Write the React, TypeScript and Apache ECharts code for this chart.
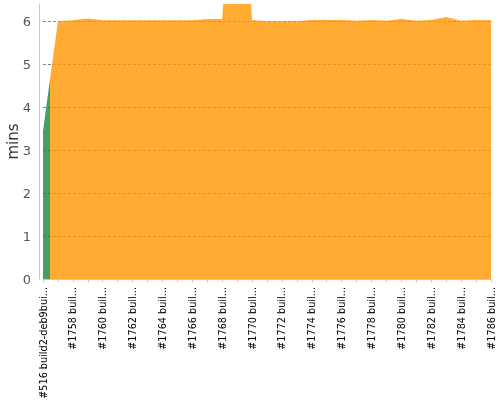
import React, { useEffect, useRef } from "react";
import * as echarts from "echarts";

const categories: string[] = [
  "#516 build2-deb9bui...",
  "#1757 buil...",
  "#1758 buil...",
  "#1759 buil...",
  "#1760 buil...",
  "#1761 buil...",
  "#1762 buil...",
  "#1763 buil...",
  "#1764 buil...",
  "#1765 buil...",
  "#1766 buil...",
  "#1767 buil...",
  "#1768 buil...",
  "#1769 buil...",
  "#1770 buil...",
  "#1771 buil...",
  "#1772 buil...",
  "#1773 buil...",
  "#1774 buil...",
  "#1775 buil...",
  "#1776 buil...",
  "#1777 buil...",
  "#1778 buil...",
  "#1779 buil...",
  "#1780 buil...",
  "#1781 buil...",
  "#1782 buil...",
  "#1783 buil...",
  "#1784 buil...",
  "#1785 buil...",
  "#1786 buil...",
];

const buildMinutes: number[] = [
  3.45, 6.0, 6.02, 6.06, 6.02, 6.02, 6.02, 6.02, 6.02, 6.02, 6.02, 6.05, 6.05,
  11.0, 6.03, 6.0, 6.0, 6.0, 6.03, 6.03, 6.03, 6.01, 6.03, 6.01, 6.05, 6.01,
  6.03, 6.1, 6.01, 6.03, 6.02,
];

// index of the last successful (green) build; later builds are unstable (orange)
const lastSuccessIndex = 0;

const yMin = 0;
const yMax = 6.4;
const yInterval = 1;

const GREEN = "#188641";
const ORANGE = "#FF9700";

export default function App() {
  const ref = useRef<HTMLDivElement>(null);
  useEffect(() => {
    const chart = echarts.init(ref.current!, null, { renderer: "svg" });
    const baseOption: any = {
      animation: false,
      textStyle: { fontFamily: "DejaVu Sans" },
      grid: {
        left: 43,
        right: 9,
        top: 4,
        bottom: 121,
        containLabel: false,
        outerBoundsMode: "none",
      },
      xAxis: {
        type: "category",
        data: categories,
        boundaryGap: false,
        offset: 4,
        axisLine: { lineStyle: { color: "#c8c8c8" } },
        axisTick: { show: true, interval: 0, length: 3, lineStyle: { color: "#c8c8c8" } },
        axisLabel: {
          rotate: 90,
          interval: 1,
          margin: 4,
          fontSize: 9.7,
          color: "#000",
          fontFamily: "DejaVu Sans",
        },
        splitLine: { show: false },
      },
      yAxis: {
        type: "value",
        min: yMin,
        max: yMax,
        interval: yInterval,
        offset: 4,
        name: "mins",
        nameLocation: "middle",
        nameGap: 19,
        nameMoveOverlap: false,
        nameTextStyle: { fontSize: 15, color: "#333", fontFamily: "DejaVu Sans" },
        axisLine: { show: true, lineStyle: { color: "#c8c8c8" } },
        axisTick: { show: false },
        axisLabel: { fontSize: 13, color: "#555", margin: 8, showMaxLabel: false },
        splitLine: {
          show: true,
          showMaxLine: false,
          lineStyle: { color: "#888", type: [3, 2], width: 1 },
        },
      },
      series: [
        {
          type: "line",
          data: buildMinutes,
          symbol: "none",
          showSymbol: false,
          lineStyle: { width: 0 },
          areaStyle: { opacity: 0.8, color: ORANGE },
        },
      ],
    };
    chart.setOption(baseOption);

    const xStart = chart.convertToPixel({ xAxisIndex: 0 }, 0) as number;
    const xEnd = chart.convertToPixel({ xAxisIndex: 0 }, buildMinutes.length - 1) as number;
    const xA = chart.convertToPixel({ xAxisIndex: 0 }, lastSuccessIndex) as number;
    const xB = chart.convertToPixel({ xAxisIndex: 0 }, lastSuccessIndex + 1) as number;
    const mid = (xA + xB) / 2;
    const f = (mid - xStart) / (xEnd - xStart);
    const gradient = new echarts.graphic.LinearGradient(
      xStart,
      0,
      xEnd,
      0,
      [
        { offset: 0, color: GREEN },
        { offset: f, color: GREEN },
        { offset: f, color: ORANGE },
        { offset: 1, color: ORANGE },
      ],
      true
    );
    chart.setOption({
      series: [{ areaStyle: { opacity: 0.8, color: gradient } }],
    });
    return () => chart.dispose();
  }, []);
  return (
    <div
      ref={ref}
      style={{ position: "fixed", left: 0, top: 0, width: 500, height: 400 }}
    />
  );
}
